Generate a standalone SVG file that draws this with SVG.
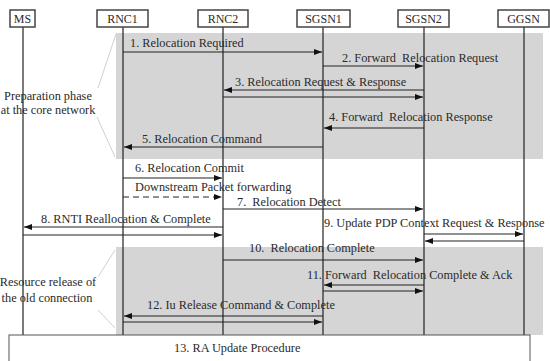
<svg xmlns="http://www.w3.org/2000/svg" width="550" height="361" viewBox="0 0 550 361">
<defs>
<marker id="ah" markerWidth="8" markerHeight="6" refX="8" refY="3" orient="auto" markerUnits="userSpaceOnUse">
<path d="M0,0 L8,3 L0,6 z" fill="#111"/>
</marker>
<style>
text{font-family:'Liberation Serif','DejaVu Serif','Noto Serif',Times,serif;font-size:12.3px;fill:#2a2a2a;white-space:pre}
.hdr{font-size:12px;text-anchor:middle}
.lbl{text-anchor:middle}
.box{fill:#fff;stroke:#444;stroke-width:1.5}
.life{stroke:#222;stroke-width:1.2}
.msg{stroke:#222;stroke-width:1.2;fill:none;marker-end:url(#ah)}
.dash{stroke-dasharray:6,4}
.zone{fill:#d5d5d5}
.call{stroke:#d0d0d0;stroke-width:1;fill:none}
</style>
</defs>
<rect width="550" height="361" fill="#fff"/>

<g id="zones">
<rect class="zone" x="116" y="33" width="427" height="126"/>
<rect class="zone" x="116" y="247" width="427" height="88"/>
<line class="call" x1="116" y1="34" x2="98" y2="88"/>
<line class="call" x1="97" y1="117" x2="115" y2="157"/>
<line class="call" x1="115" y1="250" x2="98" y2="277"/>
<line class="call" x1="98" y1="310" x2="115" y2="328"/>
<text class="lbl" x="48" y="100">Preparation phase</text>
<text class="lbl" x="48" y="114">at the core network</text>
<text class="lbl" x="48" y="286">Resource release of</text>
<text class="lbl" x="47" y="302">the old connection</text>
</g>

<g id="lifelines">
<line class="life" x1="23" y1="27" x2="23" y2="335"/>
<line class="life" x1="123" y1="27" x2="123" y2="335"/>
<line class="life" x1="223" y1="27" x2="223" y2="335"/>
<line class="life" x1="323" y1="27" x2="323" y2="335"/>
<line class="life" x1="424" y1="27" x2="424" y2="335"/>
<line class="life" x1="524" y1="27" x2="524" y2="335"/>
</g>

<g id="MS"><rect class="box" x="10" y="10" width="25" height="17"/><text class="hdr" x="22.5" y="23">MS</text></g>
<g id="RNC1"><rect class="box" x="97" y="10" width="51" height="17"/><text class="hdr" x="122.5" y="23">RNC1</text></g>
<g id="RNC2"><rect class="box" x="198" y="10" width="50" height="17"/><text class="hdr" x="223" y="23">RNC2</text></g>
<g id="SGSN1"><rect class="box" x="297" y="10" width="53" height="17"/><text class="hdr" x="323.5" y="23">SGSN1</text></g>
<g id="SGSN2"><rect class="box" x="398" y="10" width="51" height="17"/><text class="hdr" x="423.5" y="23">SGSN2</text></g>
<g id="GGSN"><rect class="box" x="498" y="10" width="51" height="17"/><text class="hdr" x="523.5" y="23">GGSN</text></g>

<g id="connectors">
<line class="msg" x1="123" y1="52" x2="322" y2="52"/>
<line class="msg" x1="323" y1="66" x2="423" y2="66"/>
<line class="msg" x1="424" y1="90" x2="224" y2="90"/>
<line class="msg" x1="223" y1="97" x2="423" y2="97"/>
<line class="msg" x1="424" y1="128" x2="324" y2="128"/>
<line class="msg" x1="323" y1="147" x2="124" y2="147"/>
<line class="msg" x1="123" y1="178" x2="222" y2="178"/>
<line class="msg dash" x1="123" y1="197" x2="222" y2="197"/>
<line class="msg" x1="223" y1="209" x2="423" y2="209"/>
<line class="msg" x1="223" y1="227" x2="24" y2="227"/>
<line class="msg" x1="23" y1="235" x2="222" y2="235"/>
<line class="msg" x1="424" y1="234" x2="523" y2="234"/>
<line class="msg" x1="524" y1="241" x2="425" y2="241"/>
<line class="msg" x1="223" y1="260" x2="423" y2="260"/>
<line class="msg" x1="424" y1="285" x2="324" y2="285"/>
<line class="msg" x1="323" y1="291" x2="423" y2="291"/>
<line class="msg" x1="323" y1="316" x2="124" y2="316"/>
<line class="msg" x1="123" y1="322" x2="322" y2="322"/>
</g>

<g id="labels">
<text x="130" y="47">1. Relocation Required</text>
<text x="342" y="62">2. Forward  Relocation Request</text>
<text x="235" y="86">3. Relocation Request &amp; Response</text>
<text x="329" y="121">4. Forward  Relocation Response</text>
<text x="142" y="143">5. Relocation Command</text>
<text x="135" y="172">6. Relocation Commit</text>
<text x="135" y="191">Downstream Packet forwarding</text>
<text x="237" y="206">7.  Relocation Detect</text>
<text x="41" y="223">8. RNTI Reallocation &amp; Complete</text>
<text x="324" y="227">9. Update PDP Context Request &amp; Response</text>
<text x="249" y="252">10.  Relocation Complete</text>
<text x="307" y="279">11. Forward  Relocation Complete &amp; Ack</text>
<text x="147" y="309">12. Iu Release Command &amp; Complete</text>
</g>

<g id="RAUpdate">
<rect x="9" y="335" width="521" height="40" fill="#fff" stroke="#555" stroke-width="1"/>
<text x="174" y="352">13. RA Update Procedure</text>
</g>
</svg>
